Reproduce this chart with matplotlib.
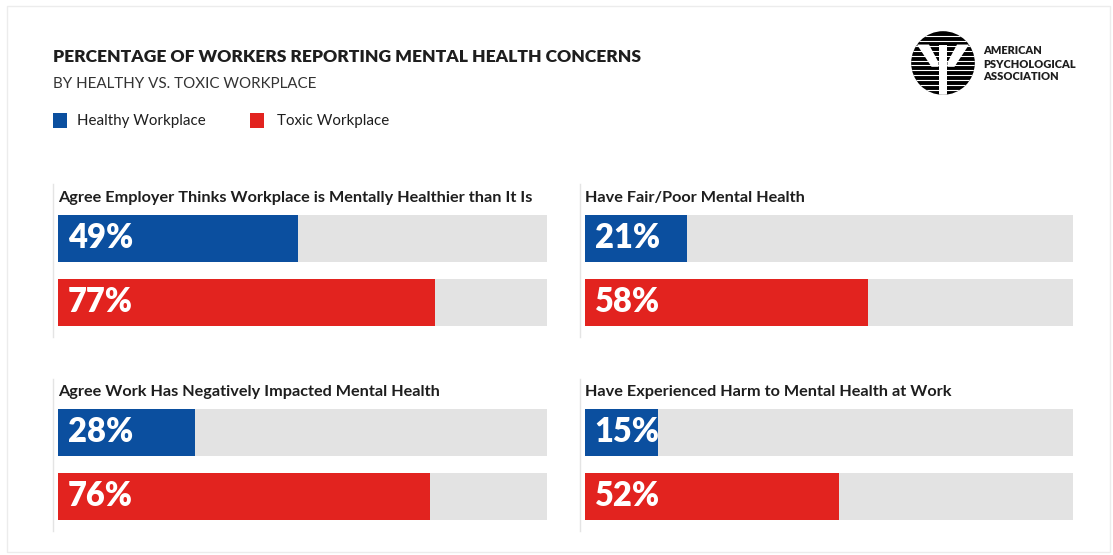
import numpy as np
import matplotlib.pyplot as plt
from matplotlib.patches import Rectangle, Circle, Polygon

# survey results, percent of workers
panel_titles = [
    "Agree Employer Thinks Workplace is Mentally Healthier than It Is",
    "Have Fair/Poor Mental Health",
    "Agree Work Has Negatively Impacted Mental Health",
    "Have Experienced Harm to Mental Health at Work",
]
healthy = [49, 21, 28, 15]
toxic = [77, 58, 76, 52]
series_names = ["Healthy Workplace", "Toxic Workplace"]

BLUE = "#0b4f9f"
RED = "#e2231f"
GREY = "#e3e3e3"
INK = "#1e1e1e"

plt.rcParams["font.family"] = ["Lato", "DejaVu Sans"]

W, H = 1113, 555
fig = plt.figure(figsize=(W / 100, H / 100), dpi=100)
fig.patch.set_facecolor("white")


def px(x, y):
    # pixel position (from top-left) -> figure fraction
    return x / W, 1 - y / H


# faint outer frame
fig.patches.append(Rectangle(px(7, 552), 1103 / W, 546 / H, transform=fig.transFigure,
                             fill=False, edgecolor="#ececec", lw=1.0))

# header
fig.text(*px(53, 57), "PERCENTAGE OF WORKERS REPORTING MENTAL HEALTH CONCERNS",
         fontsize=12.6, fontweight="heavy", color=INK, va="center", ha="left")
fig.text(*px(53, 84), "BY HEALTHY VS. TOXIC WORKPLACE",
         fontsize=10.9, color="#333333", va="center", ha="left")

# legend
for (x0, xt), name, col in zip([(53, 77), (250, 277)], series_names, [BLUE, RED]):
    fig.patches.append(Rectangle(px(x0, 128), 14 / W, 15 / H, transform=fig.transFigure,
                                 facecolor=col, edgecolor="none"))
    fig.text(*px(xt, 121), name, fontsize=10.9, color=INK, va="center", ha="left")

# logo
lax = fig.add_axes([px(908, 0)[0], px(0, 98)[1], 70 / W, 70 / H])
lax.set_xlim(-1.1, 1.1)
lax.set_ylim(-1.1, 1.1)
lax.set_aspect("equal")
lax.axis("off")
disc = Circle((0, 0), 1.0, facecolor="black", edgecolor="none")
lax.add_patch(disc)
for yy in np.linspace(-0.86, 0.86, 12):
    ln, = lax.plot([-1, 1], [yy, yy], color="white", lw=0.8)
    ln.set_clip_path(disc)
psi = [
    Polygon([(-0.82, 0.58), (-0.44, 0.58), (-0.14, 0.02), (-0.14, -0.12), (-0.36, -0.12)]),
    Polygon([(0.82, 0.58), (0.44, 0.58), (0.14, 0.02), (0.14, -0.12), (0.36, -0.12)]),
    Polygon([(-0.14, 0.58), (0.14, 0.58), (0.14, -1.0), (-0.14, -1.0)]),
]
for p in psi:
    p.set_facecolor("white")
    p.set_edgecolor("none")
    lax.add_patch(p)
    p.set_clip_path(disc)
for i, word in enumerate(["AMERICAN", "PSYCHOLOGICAL", "ASSOCIATION"]):
    fig.text(*px(983, 51 + 13 * i), word, fontsize=7.9, fontweight="heavy",
             color=INK, va="center", ha="left")

# bar panels: (left px, width px, top px of axes)
panels = [(58, 489, 206.5), (585, 488, 206.5), (58, 489, 400.5), (585, 488, 400.5)]
for (x0, wpx, top), title, h_val, t_val in zip(panels, panel_titles, healthy, toxic):
    left, bottom = px(x0, top + 128)
    ax = fig.add_axes([left, bottom, wpx / W, 128 / H])
    ax.set_xlim(0, 100)
    ax.set_ylim(-0.5, 1.5)
    ax.axis("off")
    ypos = [1, 0]
    vals = [h_val, t_val]
    ax.barh(ypos, [100, 100], height=0.734, color=GREY, edgecolor="none")
    ax.barh(ypos, vals, height=0.734, color=[BLUE, RED], edgecolor="none")
    for y, v in zip(ypos, vals):
        ax.text(2.0, y, f"{v}%", color="white", fontsize=23.5, fontweight="heavy",
                va="center", ha="left")
    ax.text(0.0, 1.07, title, transform=ax.transAxes, fontsize=11.7, fontweight="bold",
            color=INK, va="center", ha="left")
    # thin divider at the panel's left edge
    fig.add_artist(plt.Line2D([px(x0 - 5, 0)[0]] * 2,
                              [px(0, top - 22)[1], px(0, top + 130)[1]],
                              color="#e4e4e4", lw=1.0))

fig.savefig("out.png", dpi=100, facecolor="white")
